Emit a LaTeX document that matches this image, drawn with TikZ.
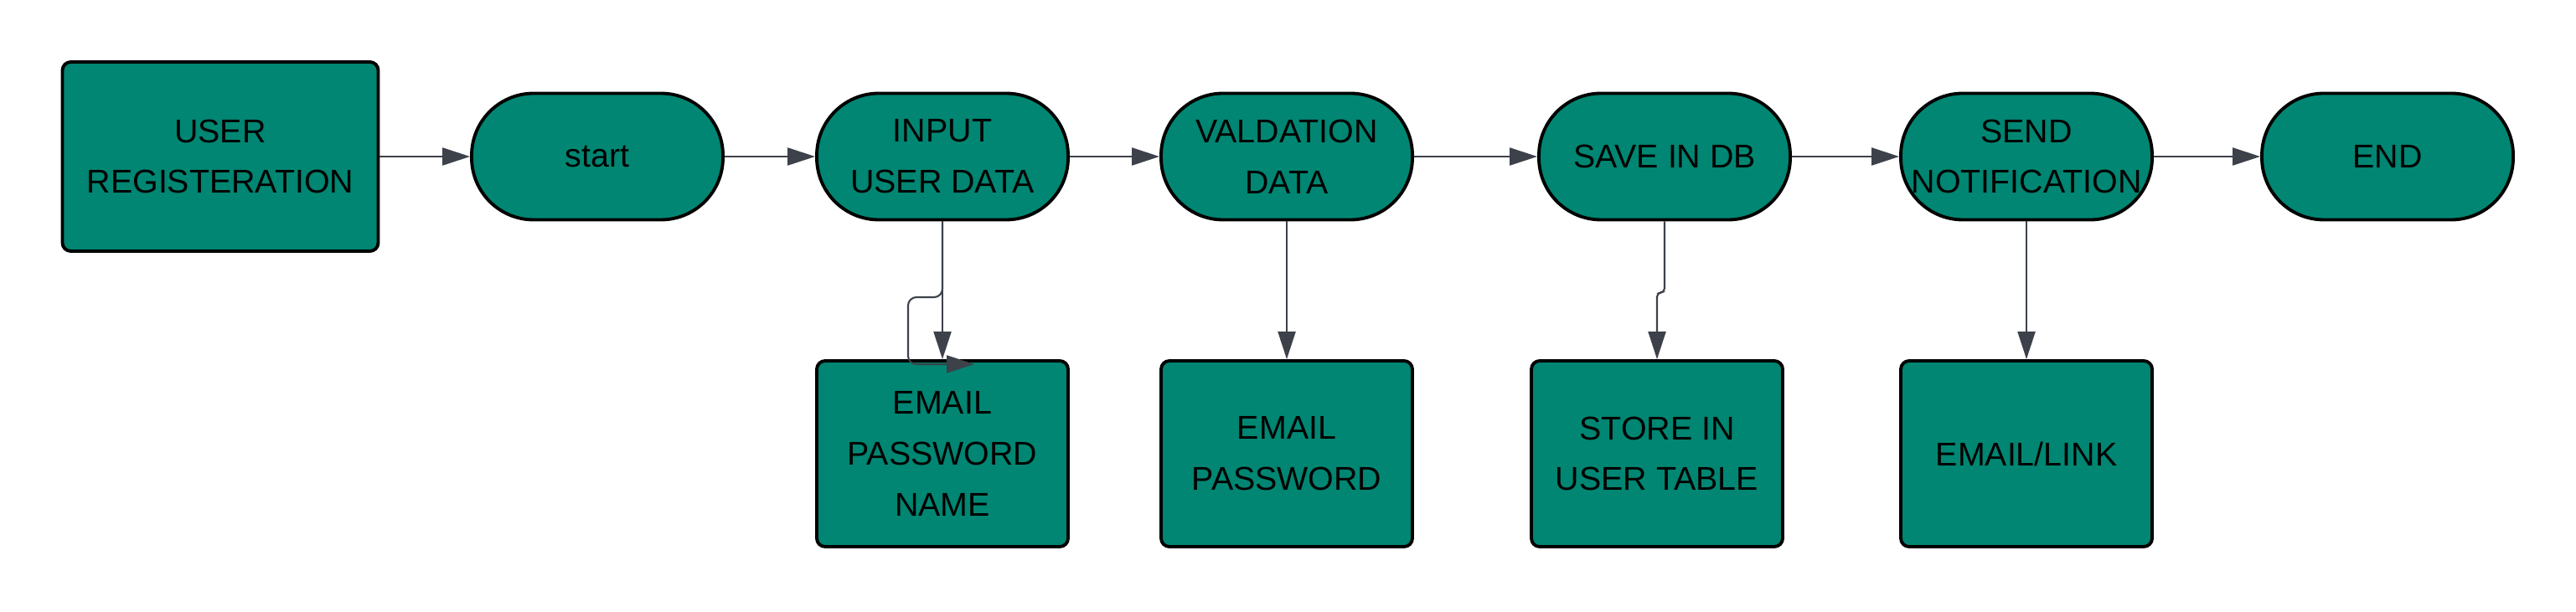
\documentclass[tikz,border=0pt]{standalone}
\usepackage{fontspec}
\setmainfont{Liberation Sans}
\usepackage{tikz}
\usetikzlibrary{arrows.meta}
\definecolor{teal}{RGB}{0,134,114}
\definecolor{wire}{RGB}{60,65,74}
\tikzset{
	>={Triangle[length=3.3mm,width=2.1mm]},
	every node/.style={font=\fontsize{11.2}{17.3}\selectfont, align=center, inner sep=0pt},
	term/.style={draw=black, line width=1.1pt, fill=teal, rounded corners=7.4mm,
		minimum width=3cm, minimum height=1.51cm},
	card/.style={draw=black, line width=1.1pt, fill=teal, rounded corners=1mm,
		minimum width=3cm, minimum height=2.22cm},
	wire/.style={draw=wire, line width=0.6pt},
}

\begin{document}
\begin{tikzpicture}
\useasboundingbox (0,0) rectangle (30.75,-7.31);
\node[card, minimum width=3.77cm, minimum height=2.26cm] (reg) at (2.63,-1.87) {USER\\REGISTERATION};
\node[term] (start) at (7.13,-1.87) {start};
\node[term] (in) at (11.25,-1.87) {INPUT\\USER DATA};
\node[term] (val) at (15.36,-1.87) {VALDATION\\DATA};
\node[term] (save) at (19.87,-1.87) {SAVE IN DB};
\node[term] (send) at (24.19,-1.87) {SEND\\NOTIFICATION};
\node[term] (end) at (28.50,-1.87) {END};
\node[card] (fields) at (11.25,-5.42) {EMAIL\\PASSWORD\\NAME};
\node[card] (check) at (15.36,-5.42) {EMAIL\\PASSWORD};
\node[card] (store) at (19.78,-5.42) {STORE IN\\USER TABLE};
\node[card] (mail) at (24.19,-5.42) {EMAIL/LINK};
\coordinate (loopl) at (10.84,-3.55);
\coordinate (loopr) at (11.63,-4.35);
\draw[wire,->] (reg) -- (start);
\draw[wire,->] (start) -- (in);
\draw[wire,->] (in) -- (val);
\draw[wire,->] (val) -- (save);
\draw[wire,->] (save) -- (send);
\draw[wire,->] (send) -- (end);
\draw[wire,->] (in) -- (fields);
\draw[wire,->,rounded corners=1mm] (in.south) |- (loopl) |- (loopr);
\draw[wire,->] (val) -- (check);
\draw[wire,->,rounded corners=0.5mm] (save.south) -- ++(0,-0.85) -| (store.north);
\draw[wire,->] (send) -- (mail);
\end{tikzpicture}
\end{document}
